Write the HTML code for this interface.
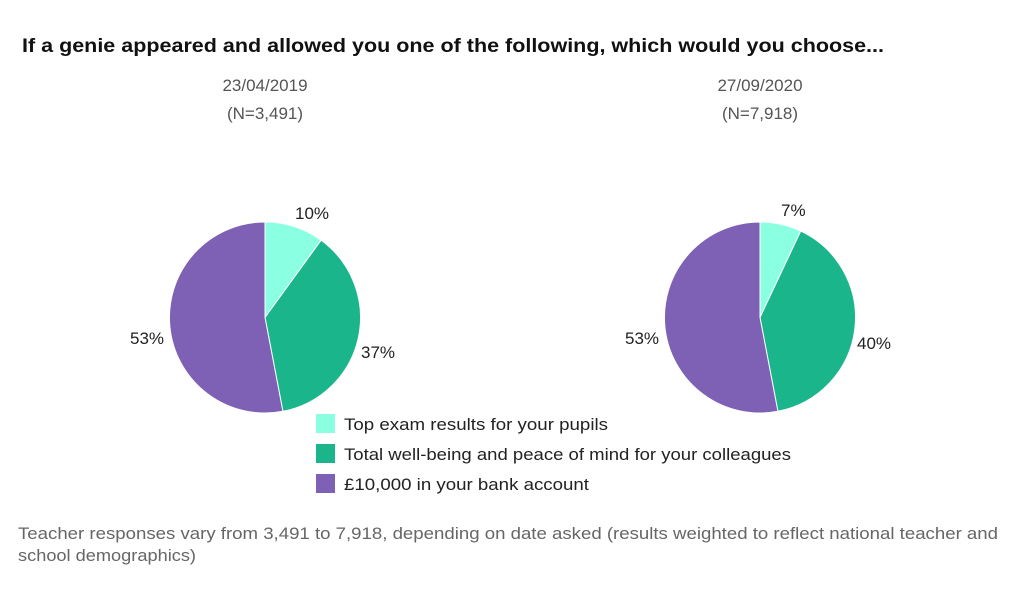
<!DOCTYPE html>
<html><head><meta charset="utf-8"><style>
body{margin:0;width:1024px;height:585px;background:#fff;overflow:hidden;font-family:"Liberation Sans",sans-serif}
</style></head><body>
<svg width="1024" height="585" xmlns="http://www.w3.org/2000/svg" font-family="Liberation Sans, sans-serif">
<text x="22" y="52" font-size="19.5" font-weight="bold" fill="#111" textLength="862" lengthAdjust="spacingAndGlyphs">If a genie appeared and allowed you one of the following, which would you choose...</text>
<g font-size="17" fill="#555" text-anchor="middle">
<text x="265" y="91">23/04/2019</text><text x="265" y="119">(N=3,491)</text>
<text x="760" y="91">27/09/2020</text><text x="760" y="119">(N=7,918)</text>
</g>
<g stroke="#fff" stroke-width="1">
<path d="M265,317.5 L265,222 A95.5,95.5 0 0 1 321.1,240.2 Z" fill="#8affe2"/>
<path d="M265,317.5 L321.1,240.2 A95.5,95.5 0 0 1 282.9,411.3 Z" fill="#1bb58c"/>
<path d="M265,317.5 L282.9,411.3 A95.5,95.5 0 1 1 265,222 Z" fill="#7e60b5"/>
<path d="M760,317.5 L760,222 A95.5,95.5 0 0 1 800.7,231.1 Z" fill="#8affe2"/>
<path d="M760,317.5 L800.7,231.1 A95.5,95.5 0 0 1 777.9,411.3 Z" fill="#1bb58c"/>
<path d="M760,317.5 L777.9,411.3 A95.5,95.5 0 1 1 760,222 Z" fill="#7e60b5"/>
</g>
<g font-size="17" fill="#222">
<text x="295" y="219">10%</text><text x="361" y="358">37%</text><text x="130" y="344">53%</text>
<text x="781" y="216">7%</text><text x="857" y="349">40%</text><text x="625" y="344">53%</text>
</g>
<rect x="316" y="414" width="19" height="19" fill="#8affe2"/>
<rect x="316" y="444" width="19" height="19" fill="#1bb58c"/>
<rect x="316" y="474" width="19" height="19" fill="#7e60b5"/>
<g font-size="17" fill="#222">
<text x="344" y="430" textLength="264" lengthAdjust="spacingAndGlyphs">Top exam results for your pupils</text>
<text x="344" y="460" textLength="447" lengthAdjust="spacingAndGlyphs">Total well-being and peace of mind for your colleagues</text>
<text x="344" y="490" textLength="245" lengthAdjust="spacingAndGlyphs">£10,000 in your bank account</text>
</g>
<g font-size="17" fill="#666">
<text x="18" y="539" textLength="980" lengthAdjust="spacingAndGlyphs">Teacher responses vary from  3,491 to 7,918, depending on date asked (results weighted to reflect national teacher and</text>
<text x="18" y="561" textLength="178" lengthAdjust="spacingAndGlyphs">school demographics)</text>
</g>
</svg>
</body></html>
